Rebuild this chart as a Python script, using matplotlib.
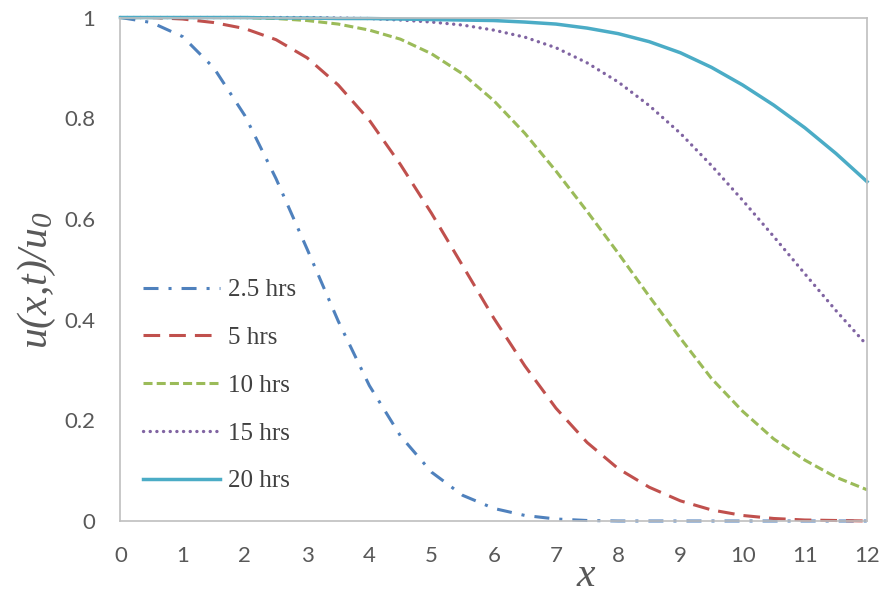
import matplotlib
matplotlib.use('Agg')
import matplotlib.pyplot as plt
import numpy as np

# concentration profiles u(x,t)/u0 read at half-unit steps along x
x_vals = [0, 0.5, 1, 1.5, 2, 2.5, 3, 3.5, 4, 4.5, 5, 5.5, 6, 6.5, 7, 7.5,
          8, 8.5, 9, 9.5, 10, 10.5, 11, 11.5, 12]
u_2_5h = [1.0, 0.99, 0.962, 0.90, 0.805, 0.68, 0.54, 0.397, 0.269, 0.169, 0.097, 0.051, 0.025,
          0.011, 0.004, 0.001, 0, 0, 0, 0, 0, 0, 0, 0, 0]
u_5h = [1.0, 1.0, 0.997, 0.99, 0.978, 0.956, 0.92, 0.866, 0.796, 0.708, 0.611, 0.507, 0.403,
        0.308, 0.224, 0.156, 0.104, 0.067, 0.040, 0.022, 0.011, 0.005, 0.002, 0.001, 0.0]
u_10h = [1.0, 1.0, 1.0, 1.0, 1.0, 0.998, 0.994, 0.987, 0.975, 0.957, 0.928, 0.888, 0.835,
         0.77, 0.695, 0.615, 0.532, 0.446, 0.363, 0.283, 0.218, 0.163, 0.121, 0.087, 0.062]
u_15h = [1.0, 1.0, 1.0, 1.0, 1.0, 1.0, 1.0, 0.999, 0.998, 0.995, 0.991, 0.985, 0.975,
         0.961, 0.94, 0.91, 0.872, 0.825, 0.77, 0.706, 0.637, 0.565, 0.491, 0.418, 0.349]
u_20h = [1.0, 1.0, 1.0, 1.0, 1.0, 0.999, 0.999, 0.998, 0.998, 0.997, 0.996, 0.995, 0.994,
         0.991, 0.987, 0.979, 0.968, 0.952, 0.93, 0.901, 0.866, 0.826, 0.781, 0.73, 0.674]
labels = ['2.5 hrs', '5 hrs', '10 hrs', '15 hrs', '20 hrs']

plt.rcParams['lines.scale_dashes'] = False
plt.rcParams['mathtext.fontset'] = 'custom'
plt.rcParams['mathtext.it'] = 'Liberation Serif:italic'
plt.rcParams['mathtext.rm'] = 'Liberation Serif:italic'

fig = plt.figure(figsize=(8.86, 5.94), dpi=100)
ax = fig.add_axes([0.136, 0.1229, 0.8426, 0.8476])

ax.plot(x_vals, u_2_5h, color='#4F81BD', lw=2.2, dashes=(10.8, 7.2, 2.2, 7.2), label=labels[0], clip_on=False)
ax.plot(x_vals, u_5h, color='#C0504D', lw=2.2, dashes=(12, 6.5), label=labels[1], clip_on=False)
ax.plot(x_vals, u_10h, color='#9BBB59', lw=2.2, dashes=(6.5, 3), label=labels[2], clip_on=False)
ax.plot(x_vals, u_15h, color='#8064A2', lw=2.4, dashes=(0.1, 4.7), dash_capstyle='round',
        label=labels[3], clip_on=False)
ax.plot(x_vals, u_20h, color='#4BACC6', lw=2.5, label=labels[4], clip_on=False)

ax.set_xlim(0, 12)
ax.set_ylim(0, 1)
ax.set_xticks(range(0, 13))
ax.set_yticks([0, 0.2, 0.4, 0.6, 0.8, 1.0])
ax.set_yticklabels(['0', '0.2', '0.4', '0.6', '0.8', '1'])
for s in ax.spines.values():
    s.set_color('#BFBFBF')
    s.set_linewidth(1.2)
ax.tick_params(length=0, labelsize=16, labelcolor='#595959')
ax.tick_params(axis='y', pad=18)
ax.tick_params(axis='x', pad=18)
for t in ax.get_xticklabels() + ax.get_yticklabels():
    t.set_fontfamily('Lato')

ax.set_xlabel(r'$x$', fontsize=30, color='#595959', va='center')
ax.xaxis.set_label_coords(0.624, -0.106)
ax.set_ylabel(r'$u(x{,}t)/u_0$', fontsize=30, color='#595959', va='center')
ax.yaxis.set_label_coords(-0.112, 0.479)

leg = ax.legend(loc='lower left', bbox_to_anchor=(0.03, 0.057), frameon=False,
                borderaxespad=0, borderpad=0, handlelength=3.1, handletextpad=0.32,
                labelspacing=1.01, prop={'family': 'Liberation Serif', 'size': 18})
for t in leg.get_texts():
    t.set_color('#404040')

fig.savefig('out.png', dpi=100)
